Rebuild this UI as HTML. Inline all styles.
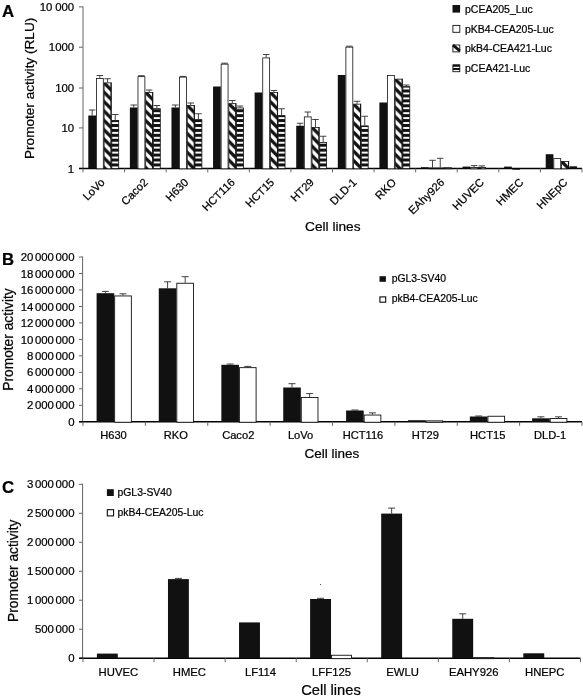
<!DOCTYPE html>
<html><head><meta charset="utf-8"><title>Figure</title>
<style>
html,body{margin:0;padding:0;background:#fff;}
body{width:583px;height:699px;overflow:hidden;}
svg{display:block;font-family:"Liberation Sans", sans-serif;fill:#111;filter:grayscale(1) blur(0.3px);}
text{fill:#000;stroke:#000;stroke-width:0.22px;}
</style></head><body>
<svg width="583" height="699" viewBox="0 0 583 699">
<rect width="583" height="699" fill="#fff"/>
<defs>
<pattern id="hs" patternUnits="userSpaceOnUse" width="10" height="4.93" patternTransform="translate(0 0.75)">
<rect width="10" height="4.93" fill="#fff"/><rect width="10" height="3.0" fill="#111"/></pattern>
</defs>
<line x1="83.00" y1="6.40" x2="83.00" y2="168.90" stroke="#666" stroke-width="1"/>
<line x1="79.00" y1="6.90" x2="83.00" y2="6.90" stroke="#666" stroke-width="1"/>
<text x="74.20" y="11.00" font-size="11.4" text-anchor="end" font-weight="normal" word-spacing="-0.3">10 000</text>
<line x1="79.00" y1="47.20" x2="83.00" y2="47.20" stroke="#666" stroke-width="1"/>
<text x="74.20" y="51.30" font-size="11.4" text-anchor="end" font-weight="normal" word-spacing="-0.3">1000</text>
<line x1="79.00" y1="88.00" x2="83.00" y2="88.00" stroke="#666" stroke-width="1"/>
<text x="74.20" y="92.10" font-size="11.4" text-anchor="end" font-weight="normal" word-spacing="-0.3">100</text>
<line x1="79.00" y1="127.90" x2="83.00" y2="127.90" stroke="#666" stroke-width="1"/>
<text x="74.20" y="132.00" font-size="11.4" text-anchor="end" font-weight="normal" word-spacing="-0.3">10</text>
<line x1="79.00" y1="168.40" x2="83.00" y2="168.40" stroke="#666" stroke-width="1"/>
<text x="74.20" y="172.50" font-size="11.4" text-anchor="end" font-weight="normal" word-spacing="-0.3">1</text>
<line x1="79.00" y1="168.40" x2="582.00" y2="168.40" stroke="#000" stroke-width="1.45"/>
<line x1="83.00" y1="168.40" x2="83.00" y2="172.40" stroke="#666" stroke-width="1"/>
<line x1="124.58" y1="168.40" x2="124.58" y2="172.40" stroke="#666" stroke-width="1"/>
<line x1="166.17" y1="168.40" x2="166.17" y2="172.40" stroke="#666" stroke-width="1"/>
<line x1="207.75" y1="168.40" x2="207.75" y2="172.40" stroke="#666" stroke-width="1"/>
<line x1="249.33" y1="168.40" x2="249.33" y2="172.40" stroke="#666" stroke-width="1"/>
<line x1="290.92" y1="168.40" x2="290.92" y2="172.40" stroke="#666" stroke-width="1"/>
<line x1="332.50" y1="168.40" x2="332.50" y2="172.40" stroke="#666" stroke-width="1"/>
<line x1="374.08" y1="168.40" x2="374.08" y2="172.40" stroke="#666" stroke-width="1"/>
<line x1="415.67" y1="168.40" x2="415.67" y2="172.40" stroke="#666" stroke-width="1"/>
<line x1="457.25" y1="168.40" x2="457.25" y2="172.40" stroke="#666" stroke-width="1"/>
<line x1="498.83" y1="168.40" x2="498.83" y2="172.40" stroke="#666" stroke-width="1"/>
<line x1="540.42" y1="168.40" x2="540.42" y2="172.40" stroke="#666" stroke-width="1"/>
<line x1="582.00" y1="168.40" x2="582.00" y2="172.40" stroke="#666" stroke-width="1"/>
<text x="2.00" y="17.00" font-size="16.8" text-anchor="start" font-weight="bold">A</text>
<text x="33.70" y="159.00" font-size="13.6" text-anchor="start" font-weight="normal" transform="rotate(-90 33.70 159.00)">Promoter activity (RLU)</text>
<text x="305.00" y="231.20" font-size="13.7" text-anchor="start" font-weight="normal">Cell lines</text>
<rect x="88.30" y="115.50" width="7.70" height="52.90" fill="#111"/>
<line x1="92.15" y1="115.50" x2="92.15" y2="110.00" stroke="#222" stroke-width="0.85"/>
<line x1="88.90" y1="110.00" x2="95.40" y2="110.00" stroke="#222" stroke-width="0.85"/>
<rect x="96.40" y="78.40" width="6.90" height="90.40" fill="#fff" stroke="#111" stroke-width="0.8"/>
<line x1="99.85" y1="78.00" x2="99.85" y2="75.50" stroke="#222" stroke-width="0.85"/>
<line x1="96.60" y1="75.50" x2="103.10" y2="75.50" stroke="#222" stroke-width="0.85"/>
<pattern id="h1" patternUnits="userSpaceOnUse" width="9.4" height="9.4" patternTransform="translate(103.70 82.50)"><rect width="9.4" height="9.4" fill="#fff"/><path d="M-9.4,-9.4 L18.8,18.8 M-9.4,0 L9.4,18.8 M0,-9.4 L18.8,9.4" stroke="#111" stroke-width="3.3" fill="none"/></pattern>
<rect x="104.10" y="82.90" width="6.90" height="85.90" fill="url(#h1)" stroke="#111" stroke-width="0.8"/>
<rect x="110.70" y="82.50" width="1.0" height="85.90" fill="#111"/>
<line x1="107.55" y1="82.50" x2="107.55" y2="78.75" stroke="#222" stroke-width="0.85"/>
<line x1="104.30" y1="78.75" x2="110.80" y2="78.75" stroke="#222" stroke-width="0.85"/>
<rect x="111.80" y="120.40" width="6.90" height="48.40" fill="url(#hs)" stroke="#111" stroke-width="0.8"/>
<line x1="115.25" y1="120.00" x2="115.25" y2="114.50" stroke="#222" stroke-width="0.85"/>
<line x1="112.00" y1="114.50" x2="118.50" y2="114.50" stroke="#222" stroke-width="0.85"/>
<text x="105.49" y="183.00" font-size="11.2" text-anchor="end" font-weight="normal" transform="rotate(-45 105.49 183.00)">LoVo</text>
<rect x="129.88" y="107.50" width="7.70" height="60.90" fill="#111"/>
<line x1="133.73" y1="107.50" x2="133.73" y2="105.00" stroke="#222" stroke-width="0.85"/>
<line x1="130.48" y1="105.00" x2="136.98" y2="105.00" stroke="#222" stroke-width="0.85"/>
<rect x="137.98" y="76.65" width="6.90" height="92.15" fill="#fff" stroke="#111" stroke-width="0.8"/>
<line x1="141.43" y1="76.25" x2="141.43" y2="75.70" stroke="#222" stroke-width="0.85"/>
<line x1="138.18" y1="75.70" x2="144.68" y2="75.70" stroke="#222" stroke-width="0.85"/>
<pattern id="h2" patternUnits="userSpaceOnUse" width="9.4" height="9.4" patternTransform="translate(145.28 92.00)"><rect width="9.4" height="9.4" fill="#fff"/><path d="M-9.4,-9.4 L18.8,18.8 M-9.4,0 L9.4,18.8 M0,-9.4 L18.8,9.4" stroke="#111" stroke-width="3.3" fill="none"/></pattern>
<rect x="145.68" y="92.40" width="6.90" height="76.40" fill="url(#h2)" stroke="#111" stroke-width="0.8"/>
<rect x="152.28" y="92.00" width="1.0" height="76.40" fill="#111"/>
<line x1="149.13" y1="92.00" x2="149.13" y2="90.00" stroke="#222" stroke-width="0.85"/>
<line x1="145.88" y1="90.00" x2="152.38" y2="90.00" stroke="#222" stroke-width="0.85"/>
<rect x="153.38" y="108.65" width="6.90" height="60.15" fill="url(#hs)" stroke="#111" stroke-width="0.8"/>
<line x1="156.83" y1="108.25" x2="156.83" y2="105.50" stroke="#222" stroke-width="0.85"/>
<line x1="153.58" y1="105.50" x2="160.08" y2="105.50" stroke="#222" stroke-width="0.85"/>
<text x="148.57" y="183.00" font-size="11.2" text-anchor="end" font-weight="normal" transform="rotate(-45 148.57 183.00)">Caco2</text>
<rect x="171.47" y="107.50" width="7.70" height="60.90" fill="#111"/>
<line x1="175.32" y1="107.50" x2="175.32" y2="105.00" stroke="#222" stroke-width="0.85"/>
<line x1="172.07" y1="105.00" x2="178.57" y2="105.00" stroke="#222" stroke-width="0.85"/>
<rect x="179.57" y="77.15" width="6.90" height="91.65" fill="#fff" stroke="#111" stroke-width="0.8"/>
<line x1="183.02" y1="76.75" x2="183.02" y2="76.40" stroke="#222" stroke-width="0.85"/>
<line x1="179.77" y1="76.40" x2="186.27" y2="76.40" stroke="#222" stroke-width="0.85"/>
<pattern id="h3" patternUnits="userSpaceOnUse" width="9.4" height="9.4" patternTransform="translate(186.87 105.00)"><rect width="9.4" height="9.4" fill="#fff"/><path d="M-9.4,-9.4 L18.8,18.8 M-9.4,0 L9.4,18.8 M0,-9.4 L18.8,9.4" stroke="#111" stroke-width="3.3" fill="none"/></pattern>
<rect x="187.27" y="105.40" width="6.90" height="63.40" fill="url(#h3)" stroke="#111" stroke-width="0.8"/>
<rect x="193.87" y="105.00" width="1.0" height="63.40" fill="#111"/>
<line x1="190.72" y1="105.00" x2="190.72" y2="103.00" stroke="#222" stroke-width="0.85"/>
<line x1="187.47" y1="103.00" x2="193.97" y2="103.00" stroke="#222" stroke-width="0.85"/>
<rect x="194.97" y="119.65" width="6.90" height="49.15" fill="url(#hs)" stroke="#111" stroke-width="0.8"/>
<line x1="198.42" y1="119.25" x2="198.42" y2="113.75" stroke="#222" stroke-width="0.85"/>
<line x1="195.17" y1="113.75" x2="201.67" y2="113.75" stroke="#222" stroke-width="0.85"/>
<text x="189.16" y="183.00" font-size="11.2" text-anchor="end" font-weight="normal" transform="rotate(-45 189.16 183.00)">H630</text>
<rect x="213.05" y="86.50" width="7.70" height="81.90" fill="#111"/>
<rect x="221.15" y="64.15" width="6.90" height="104.65" fill="#fff" stroke="#111" stroke-width="0.8"/>
<line x1="224.60" y1="63.75" x2="224.60" y2="63.20" stroke="#222" stroke-width="0.85"/>
<line x1="221.35" y1="63.20" x2="227.85" y2="63.20" stroke="#222" stroke-width="0.85"/>
<pattern id="h4" patternUnits="userSpaceOnUse" width="9.4" height="9.4" patternTransform="translate(228.45 103.25)"><rect width="9.4" height="9.4" fill="#fff"/><path d="M-9.4,-9.4 L18.8,18.8 M-9.4,0 L9.4,18.8 M0,-9.4 L18.8,9.4" stroke="#111" stroke-width="3.3" fill="none"/></pattern>
<rect x="228.85" y="103.65" width="6.90" height="65.15" fill="url(#h4)" stroke="#111" stroke-width="0.8"/>
<rect x="235.45" y="103.25" width="1.0" height="65.15" fill="#111"/>
<line x1="232.30" y1="103.25" x2="232.30" y2="100.50" stroke="#222" stroke-width="0.85"/>
<line x1="229.05" y1="100.50" x2="235.55" y2="100.50" stroke="#222" stroke-width="0.85"/>
<rect x="236.55" y="107.90" width="6.90" height="60.90" fill="url(#hs)" stroke="#111" stroke-width="0.8"/>
<line x1="240.00" y1="107.50" x2="240.00" y2="106.00" stroke="#222" stroke-width="0.85"/>
<line x1="236.75" y1="106.00" x2="243.25" y2="106.00" stroke="#222" stroke-width="0.85"/>
<text x="235.74" y="183.00" font-size="11.2" text-anchor="end" font-weight="normal" transform="rotate(-45 235.74 183.00)">HCT116</text>
<rect x="254.63" y="92.50" width="7.70" height="75.90" fill="#111"/>
<rect x="262.73" y="57.90" width="6.90" height="110.90" fill="#fff" stroke="#111" stroke-width="0.8"/>
<line x1="266.18" y1="57.50" x2="266.18" y2="54.50" stroke="#222" stroke-width="0.85"/>
<line x1="262.93" y1="54.50" x2="269.43" y2="54.50" stroke="#222" stroke-width="0.85"/>
<pattern id="h5" patternUnits="userSpaceOnUse" width="9.4" height="9.4" patternTransform="translate(270.03 92.00)"><rect width="9.4" height="9.4" fill="#fff"/><path d="M-9.4,-9.4 L18.8,18.8 M-9.4,0 L9.4,18.8 M0,-9.4 L18.8,9.4" stroke="#111" stroke-width="3.3" fill="none"/></pattern>
<rect x="270.43" y="92.40" width="6.90" height="76.40" fill="url(#h5)" stroke="#111" stroke-width="0.8"/>
<rect x="277.03" y="92.00" width="1.0" height="76.40" fill="#111"/>
<line x1="273.88" y1="92.00" x2="273.88" y2="90.50" stroke="#222" stroke-width="0.85"/>
<line x1="270.63" y1="90.50" x2="277.13" y2="90.50" stroke="#222" stroke-width="0.85"/>
<rect x="278.13" y="115.65" width="6.90" height="53.15" fill="url(#hs)" stroke="#111" stroke-width="0.8"/>
<line x1="281.58" y1="115.25" x2="281.58" y2="108.75" stroke="#222" stroke-width="0.85"/>
<line x1="278.33" y1="108.75" x2="284.83" y2="108.75" stroke="#222" stroke-width="0.85"/>
<text x="275.02" y="183.00" font-size="11.2" text-anchor="end" font-weight="normal" transform="rotate(-45 275.02 183.00)">HCT15</text>
<rect x="296.22" y="125.75" width="7.70" height="42.65" fill="#111"/>
<line x1="300.07" y1="125.75" x2="300.07" y2="123.25" stroke="#222" stroke-width="0.85"/>
<line x1="296.82" y1="123.25" x2="303.32" y2="123.25" stroke="#222" stroke-width="0.85"/>
<rect x="304.32" y="116.90" width="6.90" height="51.90" fill="#fff" stroke="#111" stroke-width="0.8"/>
<line x1="307.77" y1="116.50" x2="307.77" y2="112.00" stroke="#222" stroke-width="0.85"/>
<line x1="304.52" y1="112.00" x2="311.02" y2="112.00" stroke="#222" stroke-width="0.85"/>
<pattern id="h6" patternUnits="userSpaceOnUse" width="9.4" height="9.4" patternTransform="translate(311.62 127.00)"><rect width="9.4" height="9.4" fill="#fff"/><path d="M-9.4,-9.4 L18.8,18.8 M-9.4,0 L9.4,18.8 M0,-9.4 L18.8,9.4" stroke="#111" stroke-width="3.3" fill="none"/></pattern>
<rect x="312.02" y="127.40" width="6.90" height="41.40" fill="url(#h6)" stroke="#111" stroke-width="0.8"/>
<rect x="318.62" y="127.00" width="1.0" height="41.40" fill="#111"/>
<line x1="315.47" y1="127.00" x2="315.47" y2="119.50" stroke="#222" stroke-width="0.85"/>
<line x1="312.22" y1="119.50" x2="318.72" y2="119.50" stroke="#222" stroke-width="0.85"/>
<rect x="319.72" y="142.40" width="6.90" height="26.40" fill="url(#hs)" stroke="#111" stroke-width="0.8"/>
<line x1="323.17" y1="142.00" x2="323.17" y2="136.25" stroke="#222" stroke-width="0.85"/>
<line x1="319.92" y1="136.25" x2="326.42" y2="136.25" stroke="#222" stroke-width="0.85"/>
<text x="314.71" y="183.00" font-size="11.2" text-anchor="end" font-weight="normal" transform="rotate(-45 314.71 183.00)">HT29</text>
<rect x="337.80" y="75.00" width="7.70" height="93.40" fill="#111"/>
<rect x="345.90" y="47.15" width="6.90" height="121.65" fill="#fff" stroke="#111" stroke-width="0.8"/>
<line x1="349.35" y1="46.75" x2="349.35" y2="46.20" stroke="#222" stroke-width="0.85"/>
<line x1="346.10" y1="46.20" x2="352.60" y2="46.20" stroke="#222" stroke-width="0.85"/>
<pattern id="h7" patternUnits="userSpaceOnUse" width="9.4" height="9.4" patternTransform="translate(353.20 103.75)"><rect width="9.4" height="9.4" fill="#fff"/><path d="M-9.4,-9.4 L18.8,18.8 M-9.4,0 L9.4,18.8 M0,-9.4 L18.8,9.4" stroke="#111" stroke-width="3.3" fill="none"/></pattern>
<rect x="353.60" y="104.15" width="6.90" height="64.65" fill="url(#h7)" stroke="#111" stroke-width="0.8"/>
<rect x="360.20" y="103.75" width="1.0" height="64.65" fill="#111"/>
<line x1="357.05" y1="103.75" x2="357.05" y2="101.25" stroke="#222" stroke-width="0.85"/>
<line x1="353.80" y1="101.25" x2="360.30" y2="101.25" stroke="#222" stroke-width="0.85"/>
<rect x="361.30" y="125.90" width="6.90" height="42.90" fill="url(#hs)" stroke="#111" stroke-width="0.8"/>
<line x1="364.75" y1="125.50" x2="364.75" y2="116.25" stroke="#222" stroke-width="0.85"/>
<line x1="361.50" y1="116.25" x2="368.00" y2="116.25" stroke="#222" stroke-width="0.85"/>
<text x="357.29" y="183.00" font-size="11.2" text-anchor="end" font-weight="normal" transform="rotate(-45 357.29 183.00)">DLD-1</text>
<rect x="379.38" y="102.50" width="7.70" height="65.90" fill="#111"/>
<rect x="387.48" y="75.40" width="6.90" height="93.40" fill="#fff" stroke="#111" stroke-width="0.8"/>
<pattern id="h8" patternUnits="userSpaceOnUse" width="9.4" height="9.4" patternTransform="translate(394.78 78.75)"><rect width="9.4" height="9.4" fill="#fff"/><path d="M-9.4,-9.4 L18.8,18.8 M-9.4,0 L9.4,18.8 M0,-9.4 L18.8,9.4" stroke="#111" stroke-width="3.3" fill="none"/></pattern>
<rect x="395.18" y="79.15" width="6.90" height="89.65" fill="url(#h8)" stroke="#111" stroke-width="0.8"/>
<rect x="401.78" y="78.75" width="1.0" height="89.65" fill="#111"/>
<rect x="402.88" y="86.65" width="6.90" height="82.15" fill="url(#hs)" stroke="#111" stroke-width="0.8"/>
<line x1="406.33" y1="86.25" x2="406.33" y2="85.00" stroke="#222" stroke-width="0.85"/>
<line x1="403.08" y1="85.00" x2="409.58" y2="85.00" stroke="#222" stroke-width="0.85"/>
<text x="396.88" y="183.00" font-size="11.2" text-anchor="end" font-weight="normal" transform="rotate(-45 396.88 183.00)">RKO</text>
<rect x="420.97" y="167.20" width="7.70" height="1.20" fill="#111"/>
<rect x="429.07" y="168.00" width="6.90" height="0.80" fill="#fff" stroke="#111" stroke-width="0.8"/>
<line x1="432.52" y1="167.60" x2="432.52" y2="160.30" stroke="#222" stroke-width="0.85"/>
<line x1="429.27" y1="160.30" x2="435.77" y2="160.30" stroke="#222" stroke-width="0.85"/>
<pattern id="h9" patternUnits="userSpaceOnUse" width="9.4" height="9.4" patternTransform="translate(436.37 167.60)"><rect width="9.4" height="9.4" fill="#fff"/><path d="M-9.4,-9.4 L18.8,18.8 M-9.4,0 L9.4,18.8 M0,-9.4 L18.8,9.4" stroke="#111" stroke-width="3.3" fill="none"/></pattern>
<rect x="436.77" y="168.00" width="6.90" height="0.80" fill="url(#h9)" stroke="#111" stroke-width="0.8"/>
<rect x="443.37" y="167.60" width="1.0" height="0.80" fill="#111"/>
<line x1="440.22" y1="167.60" x2="440.22" y2="158.30" stroke="#222" stroke-width="0.85"/>
<line x1="436.97" y1="158.30" x2="443.47" y2="158.30" stroke="#222" stroke-width="0.85"/>
<rect x="444.47" y="167.70" width="6.90" height="1.10" fill="url(#hs)" stroke="#111" stroke-width="0.8"/>
<text x="445.16" y="183.00" font-size="11.2" text-anchor="end" font-weight="normal" transform="rotate(-45 445.16 183.00)">EAhy926</text>
<rect x="462.55" y="166.60" width="7.70" height="1.80" fill="#111"/>
<rect x="470.65" y="167.40" width="6.90" height="1.40" fill="#fff" stroke="#111" stroke-width="0.8"/>
<line x1="474.10" y1="167.00" x2="474.10" y2="165.60" stroke="#222" stroke-width="0.85"/>
<line x1="470.85" y1="165.60" x2="477.35" y2="165.60" stroke="#222" stroke-width="0.85"/>
<pattern id="h10" patternUnits="userSpaceOnUse" width="9.4" height="9.4" patternTransform="translate(477.95 167.20)"><rect width="9.4" height="9.4" fill="#fff"/><path d="M-9.4,-9.4 L18.8,18.8 M-9.4,0 L9.4,18.8 M0,-9.4 L18.8,9.4" stroke="#111" stroke-width="3.3" fill="none"/></pattern>
<rect x="478.35" y="167.60" width="6.90" height="1.20" fill="url(#h10)" stroke="#111" stroke-width="0.8"/>
<rect x="484.95" y="167.20" width="1.0" height="1.20" fill="#111"/>
<line x1="481.80" y1="167.20" x2="481.80" y2="165.90" stroke="#222" stroke-width="0.85"/>
<line x1="478.55" y1="165.90" x2="485.05" y2="165.90" stroke="#222" stroke-width="0.85"/>
<text x="484.74" y="183.00" font-size="11.2" text-anchor="end" font-weight="normal" transform="rotate(-45 484.74 183.00)">HUVEC</text>
<rect x="504.13" y="166.60" width="7.70" height="1.80" fill="#111"/>
<text x="524.12" y="183.00" font-size="11.2" text-anchor="end" font-weight="normal" transform="rotate(-45 524.12 183.00)">HMEC</text>
<rect x="545.72" y="154.20" width="7.70" height="14.20" fill="#111"/>
<rect x="553.82" y="158.60" width="6.90" height="10.20" fill="#fff" stroke="#111" stroke-width="0.8"/>
<pattern id="h11" patternUnits="userSpaceOnUse" width="9.4" height="9.4" patternTransform="translate(561.12 161.00)"><rect width="9.4" height="9.4" fill="#fff"/><path d="M-9.4,-9.4 L18.8,18.8 M-9.4,0 L9.4,18.8 M0,-9.4 L18.8,9.4" stroke="#111" stroke-width="3.3" fill="none"/></pattern>
<rect x="561.52" y="161.40" width="6.90" height="7.40" fill="url(#h11)" stroke="#111" stroke-width="0.8"/>
<rect x="568.12" y="161.00" width="1.0" height="7.40" fill="#111"/>
<text x="568.11" y="183.00" font-size="11.2" text-anchor="end" font-weight="normal" transform="rotate(-45 568.11 183.00)">HNEpC</text>
<rect x="569.4" y="166.3" width="7.6" height="2" fill="#111"/>
<line x1="512.40" y1="169.30" x2="520.00" y2="169.30" stroke="#111" stroke-width="0.9"/>
<rect x="452.5" y="5" width="7.6" height="7.6" fill="#111"/>
<text x="465.00" y="12.50" font-size="10.5" text-anchor="start" font-weight="normal">pCEA205_Luc</text>
<rect x="452.9" y="25.4" width="6.9" height="6.9" fill="#fff" stroke="#111" stroke-width="0.9"/>
<text x="465.00" y="32.50" font-size="10.5" text-anchor="start" font-weight="normal">pKB4-CEA205-Luc</text>
<rect x="452.9" y="45.0" width="6.9" height="6.9" fill="#fff" stroke="#111" stroke-width="0.9"/>
<path d="M453,45.2 L459.8,50.800000000000004" stroke="#111" stroke-width="2.8"/>
<text x="465.00" y="52.10" font-size="10.5" text-anchor="start" font-weight="normal">pkB4-CEA421-Luc</text>
<rect x="452.9" y="64.80000000000001" width="6.9" height="6.9" fill="#fff" stroke="#111" stroke-width="0.9"/>
<rect x="452.9" y="64.80000000000001" width="6.9" height="2" fill="#111"/>
<rect x="452.9" y="68.0" width="6.9" height="2" fill="#111"/>
<text x="465.00" y="71.90" font-size="10.5" text-anchor="start" font-weight="normal">pCEA421-Luc</text>
<line x1="82.60" y1="256.50" x2="82.60" y2="422.30" stroke="#666" stroke-width="1"/>
<line x1="79.00" y1="257.00" x2="82.60" y2="257.00" stroke="#666" stroke-width="1"/>
<text x="74.50" y="261.10" font-size="11.4" text-anchor="end" font-weight="normal" word-spacing="-1.6">20 000 000</text>
<line x1="79.00" y1="273.48" x2="82.60" y2="273.48" stroke="#666" stroke-width="1"/>
<text x="74.50" y="277.58" font-size="11.4" text-anchor="end" font-weight="normal" word-spacing="-1.6">18 000 000</text>
<line x1="79.00" y1="289.96" x2="82.60" y2="289.96" stroke="#666" stroke-width="1"/>
<text x="74.50" y="294.06" font-size="11.4" text-anchor="end" font-weight="normal" word-spacing="-1.6">16 000 000</text>
<line x1="79.00" y1="306.44" x2="82.60" y2="306.44" stroke="#666" stroke-width="1"/>
<text x="74.50" y="310.54" font-size="11.4" text-anchor="end" font-weight="normal" word-spacing="-1.6">14 000 000</text>
<line x1="79.00" y1="322.92" x2="82.60" y2="322.92" stroke="#666" stroke-width="1"/>
<text x="74.50" y="327.02" font-size="11.4" text-anchor="end" font-weight="normal" word-spacing="-1.6">12 000 000</text>
<line x1="79.00" y1="339.40" x2="82.60" y2="339.40" stroke="#666" stroke-width="1"/>
<text x="74.50" y="343.50" font-size="11.4" text-anchor="end" font-weight="normal" word-spacing="-1.6">10 000 000</text>
<line x1="79.00" y1="355.88" x2="82.60" y2="355.88" stroke="#666" stroke-width="1"/>
<text x="74.50" y="359.98" font-size="11.4" text-anchor="end" font-weight="normal" word-spacing="-1.6">8 000 000</text>
<line x1="79.00" y1="372.36" x2="82.60" y2="372.36" stroke="#666" stroke-width="1"/>
<text x="74.50" y="376.46" font-size="11.4" text-anchor="end" font-weight="normal" word-spacing="-1.6">6 000 000</text>
<line x1="79.00" y1="388.84" x2="82.60" y2="388.84" stroke="#666" stroke-width="1"/>
<text x="74.50" y="392.94" font-size="11.4" text-anchor="end" font-weight="normal" word-spacing="-1.6">4 000 000</text>
<line x1="79.00" y1="405.32" x2="82.60" y2="405.32" stroke="#666" stroke-width="1"/>
<text x="74.50" y="409.42" font-size="11.4" text-anchor="end" font-weight="normal" word-spacing="-1.6">2 000 000</text>
<line x1="79.00" y1="421.80" x2="82.60" y2="421.80" stroke="#666" stroke-width="1"/>
<text x="74.50" y="425.90" font-size="11.4" text-anchor="end" font-weight="normal" word-spacing="-1.6">0</text>
<line x1="79.00" y1="421.80" x2="582.00" y2="421.80" stroke="#000" stroke-width="1.45"/>
<line x1="83.00" y1="421.80" x2="83.00" y2="425.80" stroke="#666" stroke-width="1"/>
<line x1="145.38" y1="421.80" x2="145.38" y2="425.80" stroke="#666" stroke-width="1"/>
<line x1="207.75" y1="421.80" x2="207.75" y2="425.80" stroke="#666" stroke-width="1"/>
<line x1="270.12" y1="421.80" x2="270.12" y2="425.80" stroke="#666" stroke-width="1"/>
<line x1="332.50" y1="421.80" x2="332.50" y2="425.80" stroke="#666" stroke-width="1"/>
<line x1="394.88" y1="421.80" x2="394.88" y2="425.80" stroke="#666" stroke-width="1"/>
<line x1="457.25" y1="421.80" x2="457.25" y2="425.80" stroke="#666" stroke-width="1"/>
<line x1="519.62" y1="421.80" x2="519.62" y2="425.80" stroke="#666" stroke-width="1"/>
<line x1="582.00" y1="421.80" x2="582.00" y2="425.80" stroke="#666" stroke-width="1"/>
<text x="2.00" y="265.10" font-size="16.7" text-anchor="start" font-weight="bold">B</text>
<text x="13.30" y="390.70" font-size="13.75" text-anchor="start" font-weight="normal" transform="rotate(-90 13.30 390.70)">Promoter activity</text>
<text x="304.50" y="458.00" font-size="13.5" text-anchor="start" font-weight="normal">Cell lines</text>
<rect x="96.60" y="293.20" width="17.60" height="128.60" fill="#111"/>
<line x1="105.40" y1="293.20" x2="105.40" y2="291.40" stroke="#222" stroke-width="0.85"/>
<line x1="101.90" y1="291.40" x2="108.90" y2="291.40" stroke="#222" stroke-width="0.85"/>
<rect x="114.65" y="295.95" width="16.70" height="126.30" fill="#fff" stroke="#111" stroke-width="0.9"/>
<line x1="123.00" y1="295.50" x2="123.00" y2="293.80" stroke="#222" stroke-width="0.85"/>
<line x1="119.50" y1="293.80" x2="126.50" y2="293.80" stroke="#222" stroke-width="0.85"/>
<text x="113.49" y="438.80" font-size="11.15" text-anchor="middle" font-weight="normal">H630</text>
<rect x="158.78" y="288.30" width="17.60" height="133.50" fill="#111"/>
<line x1="167.58" y1="288.30" x2="167.58" y2="281.80" stroke="#222" stroke-width="0.85"/>
<line x1="164.08" y1="281.80" x2="171.08" y2="281.80" stroke="#222" stroke-width="0.85"/>
<rect x="176.82" y="283.25" width="16.70" height="139.00" fill="#fff" stroke="#111" stroke-width="0.9"/>
<line x1="185.18" y1="282.80" x2="185.18" y2="276.70" stroke="#222" stroke-width="0.85"/>
<line x1="181.68" y1="276.70" x2="188.68" y2="276.70" stroke="#222" stroke-width="0.85"/>
<text x="175.86" y="438.80" font-size="11.15" text-anchor="middle" font-weight="normal">RKO</text>
<rect x="221.35" y="364.80" width="17.60" height="57.00" fill="#111"/>
<line x1="230.15" y1="364.80" x2="230.15" y2="364.00" stroke="#222" stroke-width="0.85"/>
<line x1="226.65" y1="364.00" x2="233.65" y2="364.00" stroke="#222" stroke-width="0.85"/>
<rect x="239.40" y="367.65" width="16.70" height="54.60" fill="#fff" stroke="#111" stroke-width="0.9"/>
<line x1="247.75" y1="367.20" x2="247.75" y2="366.40" stroke="#222" stroke-width="0.85"/>
<line x1="244.25" y1="366.40" x2="251.25" y2="366.40" stroke="#222" stroke-width="0.85"/>
<text x="238.24" y="438.80" font-size="11.15" text-anchor="middle" font-weight="normal">Caco2</text>
<rect x="283.23" y="387.50" width="17.60" height="34.30" fill="#111"/>
<line x1="292.03" y1="387.50" x2="292.03" y2="383.70" stroke="#222" stroke-width="0.85"/>
<line x1="288.53" y1="383.70" x2="295.53" y2="383.70" stroke="#222" stroke-width="0.85"/>
<rect x="301.28" y="397.55" width="16.70" height="24.70" fill="#fff" stroke="#111" stroke-width="0.9"/>
<line x1="309.63" y1="397.10" x2="309.63" y2="393.60" stroke="#222" stroke-width="0.85"/>
<line x1="306.13" y1="393.60" x2="313.13" y2="393.60" stroke="#222" stroke-width="0.85"/>
<text x="300.61" y="438.80" font-size="11.15" text-anchor="middle" font-weight="normal">LoVo</text>
<rect x="346.10" y="410.50" width="17.60" height="11.30" fill="#111"/>
<line x1="354.90" y1="410.50" x2="354.90" y2="410.00" stroke="#222" stroke-width="0.85"/>
<line x1="351.40" y1="410.00" x2="358.40" y2="410.00" stroke="#222" stroke-width="0.85"/>
<rect x="364.15" y="415.05" width="16.70" height="7.20" fill="#fff" stroke="#111" stroke-width="0.9"/>
<line x1="372.50" y1="414.60" x2="372.50" y2="412.90" stroke="#222" stroke-width="0.85"/>
<line x1="369.00" y1="412.90" x2="376.00" y2="412.90" stroke="#222" stroke-width="0.85"/>
<text x="362.99" y="438.80" font-size="11.15" text-anchor="middle" font-weight="normal">HCT116</text>
<rect x="407.98" y="420.20" width="17.60" height="1.60" fill="#111"/>
<rect x="426.03" y="420.85" width="16.70" height="1.40" fill="#fff" stroke="#111" stroke-width="0.9"/>
<text x="425.36" y="438.80" font-size="11.15" text-anchor="middle" font-weight="normal">HT29</text>
<rect x="469.85" y="416.50" width="17.60" height="5.30" fill="#111"/>
<line x1="478.65" y1="416.50" x2="478.65" y2="416.00" stroke="#222" stroke-width="0.85"/>
<line x1="475.15" y1="416.00" x2="482.15" y2="416.00" stroke="#222" stroke-width="0.85"/>
<rect x="487.90" y="416.25" width="16.70" height="6.00" fill="#fff" stroke="#111" stroke-width="0.9"/>
<text x="487.74" y="438.80" font-size="11.15" text-anchor="middle" font-weight="normal">HCT15</text>
<rect x="532.12" y="418.30" width="17.60" height="3.50" fill="#111"/>
<line x1="540.92" y1="418.30" x2="540.92" y2="416.80" stroke="#222" stroke-width="0.85"/>
<line x1="537.42" y1="416.80" x2="544.42" y2="416.80" stroke="#222" stroke-width="0.85"/>
<rect x="550.18" y="418.45" width="16.70" height="3.80" fill="#fff" stroke="#111" stroke-width="0.9"/>
<line x1="558.52" y1="418.00" x2="558.52" y2="416.80" stroke="#222" stroke-width="0.85"/>
<line x1="555.02" y1="416.80" x2="562.02" y2="416.80" stroke="#222" stroke-width="0.85"/>
<text x="550.11" y="438.80" font-size="11.15" text-anchor="middle" font-weight="normal">DLD-1</text>
<rect x="379.5" y="276.2" width="6.4" height="5.6" fill="#111"/>
<text x="391.70" y="281.50" font-size="10.4" text-anchor="start" font-weight="normal">pGL3-SV40</text>
<rect x="379.9" y="296.9" width="5.8" height="5.3" fill="#fff" stroke="#000" stroke-width="1.05"/>
<text x="391.70" y="302.30" font-size="10.4" text-anchor="start" font-weight="normal">pkB4-CEA205-Luc</text>
<line x1="82.60" y1="483.80" x2="82.60" y2="658.70" stroke="#666" stroke-width="1"/>
<line x1="79.00" y1="484.30" x2="82.60" y2="484.30" stroke="#666" stroke-width="1"/>
<text x="74.50" y="488.40" font-size="11.4" text-anchor="end" font-weight="normal" word-spacing="-1.6">3 000 000</text>
<line x1="79.00" y1="513.28" x2="82.60" y2="513.28" stroke="#666" stroke-width="1"/>
<text x="74.50" y="517.38" font-size="11.4" text-anchor="end" font-weight="normal" word-spacing="-1.6">2 500 000</text>
<line x1="79.00" y1="542.27" x2="82.60" y2="542.27" stroke="#666" stroke-width="1"/>
<text x="74.50" y="546.37" font-size="11.4" text-anchor="end" font-weight="normal" word-spacing="-1.6">2 000 000</text>
<line x1="79.00" y1="571.25" x2="82.60" y2="571.25" stroke="#666" stroke-width="1"/>
<text x="74.50" y="575.35" font-size="11.4" text-anchor="end" font-weight="normal" word-spacing="-1.6">1 500 000</text>
<line x1="79.00" y1="600.23" x2="82.60" y2="600.23" stroke="#666" stroke-width="1"/>
<text x="74.50" y="604.33" font-size="11.4" text-anchor="end" font-weight="normal" word-spacing="-1.6">1 000 000</text>
<line x1="79.00" y1="629.22" x2="82.60" y2="629.22" stroke="#666" stroke-width="1"/>
<text x="74.50" y="633.32" font-size="11.4" text-anchor="end" font-weight="normal" word-spacing="-1.6">500 000</text>
<line x1="79.00" y1="658.20" x2="82.60" y2="658.20" stroke="#666" stroke-width="1"/>
<text x="74.50" y="662.30" font-size="11.4" text-anchor="end" font-weight="normal" word-spacing="-1.6">0</text>
<line x1="79.00" y1="658.20" x2="580.50" y2="658.20" stroke="#000" stroke-width="1.45"/>
<line x1="83.00" y1="658.20" x2="83.00" y2="662.20" stroke="#666" stroke-width="1"/>
<line x1="154.07" y1="658.20" x2="154.07" y2="662.20" stroke="#666" stroke-width="1"/>
<line x1="225.14" y1="658.20" x2="225.14" y2="662.20" stroke="#666" stroke-width="1"/>
<line x1="296.21" y1="658.20" x2="296.21" y2="662.20" stroke="#666" stroke-width="1"/>
<line x1="367.29" y1="658.20" x2="367.29" y2="662.20" stroke="#666" stroke-width="1"/>
<line x1="438.36" y1="658.20" x2="438.36" y2="662.20" stroke="#666" stroke-width="1"/>
<line x1="509.43" y1="658.20" x2="509.43" y2="662.20" stroke="#666" stroke-width="1"/>
<line x1="580.50" y1="658.20" x2="580.50" y2="662.20" stroke="#666" stroke-width="1"/>
<text x="1.90" y="492.80" font-size="16.8" text-anchor="start" font-weight="bold">C</text>
<text x="17.80" y="621.90" font-size="13.75" text-anchor="start" font-weight="normal" transform="rotate(-90 17.80 621.90)">Promoter activity</text>
<text x="301.20" y="695.20" font-size="14.7" text-anchor="start" font-weight="normal">Cell lines</text>
<rect x="96.90" y="653.60" width="20.90" height="4.60" fill="#111"/>
<text x="118.34" y="675.90" font-size="11.3" text-anchor="middle" font-weight="normal">HUVEC</text>
<rect x="167.97" y="579.10" width="20.90" height="79.10" fill="#111"/>
<line x1="178.42" y1="579.10" x2="178.42" y2="578.40" stroke="#222" stroke-width="0.85"/>
<line x1="174.92" y1="578.40" x2="181.92" y2="578.40" stroke="#222" stroke-width="0.85"/>
<text x="189.41" y="675.90" font-size="11.3" text-anchor="middle" font-weight="normal">HMEC</text>
<rect x="239.04" y="622.40" width="20.90" height="35.80" fill="#111"/>
<text x="260.48" y="675.90" font-size="11.3" text-anchor="middle" font-weight="normal">LF114</text>
<rect x="310.11" y="599.00" width="20.90" height="59.20" fill="#111"/>
<line x1="320.56" y1="599.00" x2="320.56" y2="598.30" stroke="#222" stroke-width="0.85"/>
<line x1="317.06" y1="598.30" x2="324.06" y2="598.30" stroke="#222" stroke-width="0.85"/>
<rect x="331.46" y="655.25" width="20.00" height="3.40" fill="#fff" stroke="#111" stroke-width="0.9"/>
<text x="331.55" y="675.90" font-size="11.3" text-anchor="middle" font-weight="normal">LFF125</text>
<rect x="381.19" y="513.60" width="20.90" height="144.60" fill="#111"/>
<line x1="391.64" y1="513.60" x2="391.64" y2="508.10" stroke="#222" stroke-width="0.85"/>
<line x1="388.14" y1="508.10" x2="395.14" y2="508.10" stroke="#222" stroke-width="0.85"/>
<text x="402.62" y="675.90" font-size="11.3" text-anchor="middle" font-weight="normal">EWLU</text>
<rect x="452.26" y="618.80" width="20.90" height="39.40" fill="#111"/>
<line x1="462.71" y1="618.80" x2="462.71" y2="613.80" stroke="#222" stroke-width="0.85"/>
<line x1="459.21" y1="613.80" x2="466.21" y2="613.80" stroke="#222" stroke-width="0.85"/>
<rect x="473.61" y="657.65" width="20.00" height="1.00" fill="#fff" stroke="#111" stroke-width="0.9"/>
<text x="473.69" y="675.90" font-size="11.3" text-anchor="middle" font-weight="normal">EAHY926</text>
<rect x="523.33" y="653.30" width="20.90" height="4.90" fill="#111"/>
<text x="544.76" y="675.90" font-size="11.3" text-anchor="middle" font-weight="normal">HNEPC</text>
<rect x="320" y="584" width="1" height="1" fill="#555"/>
<rect x="106.9" y="489.2" width="6.9" height="6.8" fill="#111"/>
<text x="117.50" y="495.50" font-size="10.4" text-anchor="start" font-weight="normal">pGL3-SV40</text>
<rect x="107.3" y="509.7" width="6.3" height="6.2" fill="#fff" stroke="#000" stroke-width="1.05"/>
<text x="117.50" y="515.80" font-size="10.4" text-anchor="start" font-weight="normal">pkB4-CEA205-Luc</text>
</svg></body></html>
